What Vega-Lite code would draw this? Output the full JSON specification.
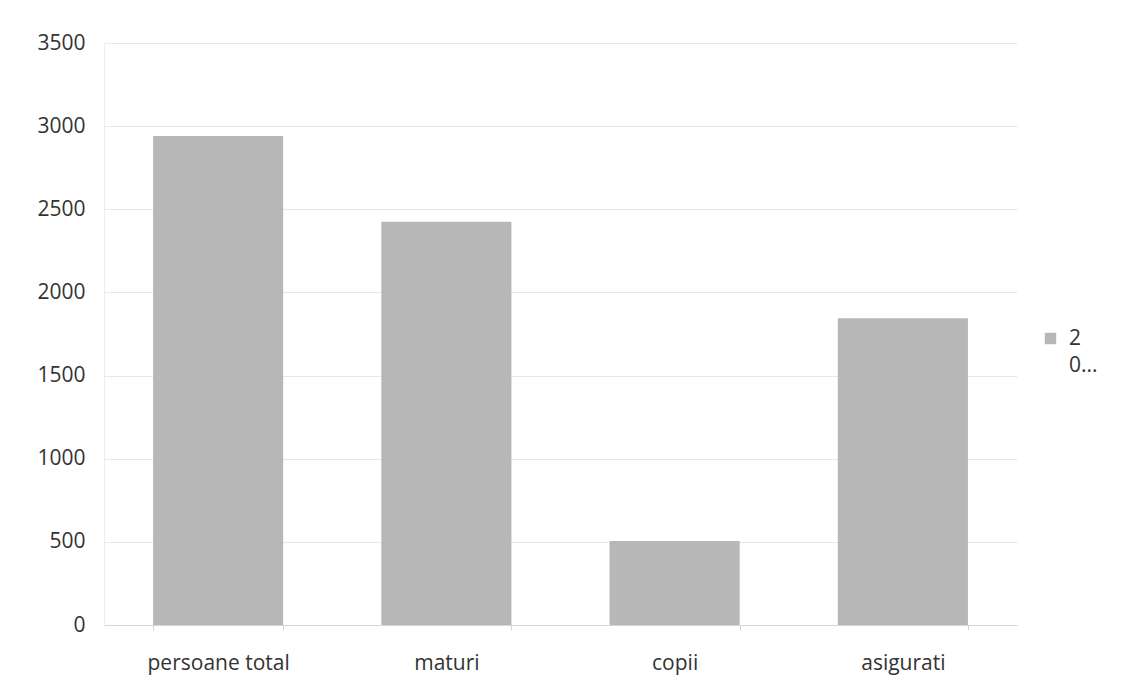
{
  "$schema": "https://vega.github.io/schema/vega-lite/v6.json",
  "width": 913,
  "height": 582,
  "autosize": {"type": "none"},
  "padding": {"left": 104, "top": 43, "right": 130, "bottom": 66},
  "background": "white",
  "config": {
    "view": {"stroke": null},
    "font": "Open Sans",
    "style": {"guide-label": {"lineHeight": 27}}
  },
  "data": {
    "values": [
      {"categorie": "persoane total", "serie": "2", "valoare": 2940},
      {"categorie": "maturi", "serie": "2", "valoare": 2425},
      {"categorie": "copii", "serie": "2", "valoare": 505},
      {"categorie": "asigurati", "serie": "2", "valoare": 1845}
    ]
  },
  "mark": {"type": "bar", "opacity": 1},
  "encoding": {
    "x": {
      "field": "categorie",
      "type": "nominal",
      "sort": null,
      "scale": {"paddingInner": 0.43, "paddingOuter": 0.215},
      "axis": {
        "title": null,
        "labelAngle": 0,
        "labelFontSize": 21,
        "labelColor": "#333333",
        "labelPadding": 22,
        "domainColor": "#d6d6d6",
        "tickColor": "#d6d6d6",
        "tickSize": 5,
        "tickBand": "extent",
        "grid": false
      }
    },
    "y": {
      "field": "valoare",
      "type": "quantitative",
      "scale": {"domain": [0, 3500], "nice": false},
      "axis": {
        "title": null,
        "format": "d",
        "values": [0, 500, 1000, 1500, 2000, 2500, 3000, 3500],
        "labelFontSize": 21,
        "labelColor": "#333333",
        "labelPadding": 19,
        "tickSize": 0,
        "domain": true,
        "domainColor": "#ececec",
        "gridColor": "#e8e8e8",
        "gridWidth": 1
      }
    },
    "color": {
      "field": "serie",
      "type": "nominal",
      "scale": {"range": ["#b7b7b7"]},
      "legend": {
        "title": null,
        "orient": "none",
        "legendX": 936,
        "legendY": 285,
        "symbolType": "square",
        "symbolSize": 130,
        "symbolOffset": 0,
        "labelOffset": 8,
        "labelFontSize": 21,
        "labelColor": "#333333",
        "labelExpr": "['2', '0...']",
        "labelBaseline": "middle"
      }
    }
  }
}
